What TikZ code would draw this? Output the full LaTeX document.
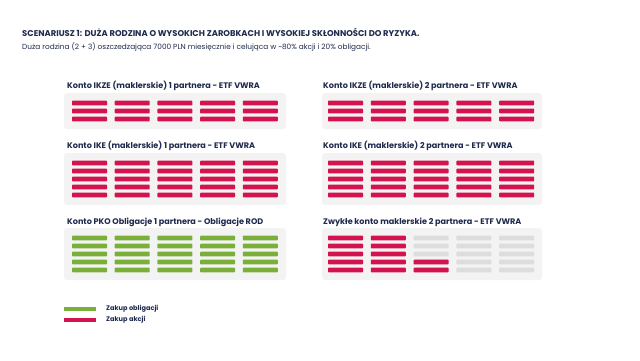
\documentclass[tikz,border=0pt]{standalone}
\usepackage{fontspec}
\setmainfont{Poppins}
\definecolor{navy}{HTML}{1F2A4D}
\definecolor{akcje}{HTML}{D3124E}
\definecolor{oblig}{HTML}{7AB03A}
\definecolor{panelbg}{HTML}{F3F3F4}
\definecolor{emptybar}{HTML}{DDDDDD}
\begin{document}
\begin{tikzpicture}[x=1pt,y=-1pt,
  panel/.style={fill=panelbg, rounded corners=3pt},
  bar/.style={rounded corners=0.8pt},
  ptitle/.style={anchor=base west, inner sep=0, text=navy, font=\fontsize{8.1}{9}\selectfont\bfseries},
  legtext/.style={anchor=west, inner sep=0, text=navy, font=\fontsize{6.6}{7}\selectfont\bfseries},
]
\fill[white] (0,0) rectangle (640,360);
\node[anchor=base west, inner sep=0, text=navy, font=\fontsize{8.4}{9}\selectfont\bfseries] (title) at (22,36)
  {SCENARIUSZ 1: DUŻA RODZINA O WYSOKICH ZAROBKACH I WYSOKIEJ SKŁONNOŚCI DO RYZYKA.};
\node[anchor=base west, inner sep=0, text=navy, font=\fontsize{7.35}{9}\selectfont] (sub) at (22,49)
  {Duża rodzina (2 + 3) oszczedzająca 7000 PLN miesięcznie i celująca w \textasciitilde80\% akcji i 20\% obligacji.};

% panel titles
\node[ptitle] (t1) at (67,88) {Konto IKZE (maklerskie) 1 partnera - ETF VWRA};
\node[ptitle] (t2) at (323,88) {Konto IKZE (maklerskie) 2 partnera - ETF VWRA};
\node[ptitle] (t3) at (67,148) {Konto IKE (maklerskie) 1 partnera - ETF VWRA};
\node[ptitle] (t4) at (323,148) {Konto IKE (maklerskie) 2 partnera - ETF VWRA};
\node[ptitle] (t5) at (67,224) {Konto PKO Obligacje 1 partnera - Obligacje ROD};
\node[ptitle] (t6) at (323,224) {Zwykłe konto maklerskie 2 partnera - ETF VWRA};

% panel backgrounds
\fill[panel] (64,93) rectangle (286,129);
\fill[panel] (322,93) rectangle (542,129);
\fill[panel] (64,153) rectangle (286,205);
\fill[panel] (322,153) rectangle (542,205);
\fill[panel] (64,228) rectangle (286,280);
\fill[panel] (322,228) rectangle (542,280);

% IKZE panels (3 rows)
\foreach \x in {72,114.7,157.4,200.1,242.8}{
  \foreach \y in {103,111,119}{
    \fill[bar,akcje] (\x,\y-2.4) rectangle ++(35,4.8);
  }
}
\foreach \x in {328,370.8,413.6,456.4,499.2}{
  \foreach \y in {103,111,119}{
    \fill[bar,akcje] (\x,\y-2.4) rectangle ++(35,4.8);
  }
}
% IKE panels (5 rows)
\foreach \x in {72,114.7,157.4,200.1,242.8}{
  \foreach \y in {163,171,179,187,195}{
    \fill[bar,akcje] (\x,\y-2.4) rectangle ++(35,4.8);
  }
}
\foreach \x in {328,370.8,413.6,456.4,499.2}{
  \foreach \y in {163,171,179,187,195}{
    \fill[bar,akcje] (\x,\y-2.4) rectangle ++(35,4.8);
  }
}
% PKO obligacje (green)
\foreach \x in {72,114.7,157.4,200.1,242.8}{
  \foreach \y in {238,246,254,262,270}{
    \fill[bar,oblig] (\x,\y-2.4) rectangle ++(35,4.8);
  }
}
% Zwykle konto
\foreach \x/\c in {328/akcje,370.8/akcje,413.6/emptybar,456.4/emptybar,499.2/emptybar}{
  \foreach \y in {238,246,254,262,270}{
    \fill[bar,\c] (\x,\y-2.4) rectangle ++(35,4.8);
  }
}
\foreach \y in {262,270}{
  \fill[bar,akcje] (413.6,\y-2.4) rectangle ++(35,4.8);
}

% legend
\fill[oblig] (64,306.8) rectangle (96,311.2);
\fill[akcje] (64,317.8) rectangle (96,322.2);
\node[legtext] (l1) at (106,309) {Zakup obligacji};
\node[legtext] (l2) at (106,320) {Zakup akcji};
\end{tikzpicture}
\end{document}
